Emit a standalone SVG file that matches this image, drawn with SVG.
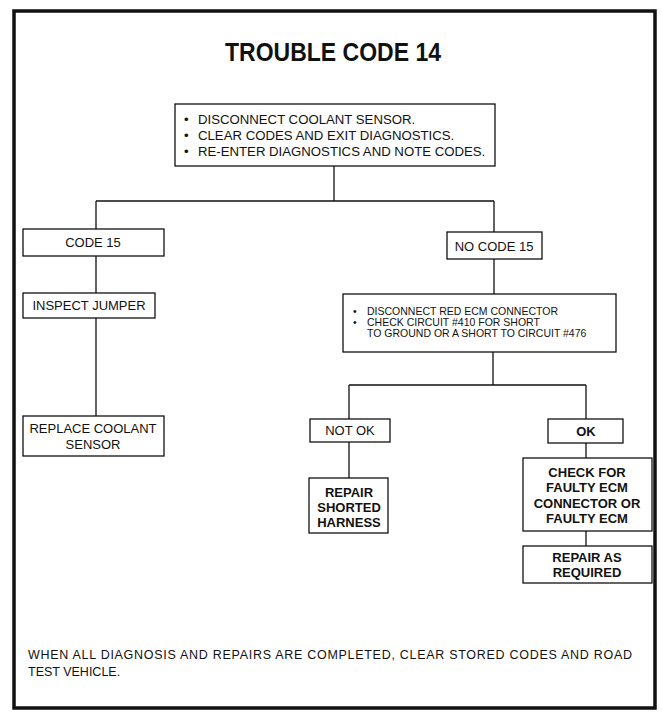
<svg xmlns="http://www.w3.org/2000/svg" width="662" height="713" viewBox="0 0 662 713">
<style>
.box{fill:#fff;stroke:#111;stroke-width:1.3}
.c{fill:none;stroke:#111;stroke-width:1.3}
text{font-family:"Liberation Sans",Arial,sans-serif;fill:#111}
.t{font-size:13px;text-anchor:middle}
.b{font-size:13px;font-weight:bold;text-anchor:middle}
.s{font-size:12.5px}
.m{font-size:13.2px}
.xs{font-size:10.5px}
</style>
<rect width="662" height="713" fill="#fff"/>
<rect id="frame" x="14" y="11" width="641" height="697" fill="none" stroke="#111" stroke-width="3.5"/>
<text id="title" x="333" y="61" font-size="25" font-weight="bold" text-anchor="middle" textLength="216" lengthAdjust="spacingAndGlyphs">TROUBLE CODE 14</text>
<g id="connectors">
<path class="c" d="M334 166V201M96 201H494M96 201V229M96 256V293M96 318V416M494 201V232M494 259V294M493 352V385M349 385H586M349 385V419M586 385V419M349 442V478M586 443V458M586 531V546"/>
</g>
<g id="start">
<rect class="box" x="175" y="104" width="320" height="62"/>
<text class="m" x="184" y="124">•</text><text class="m" x="198" y="124">DISCONNECT COOLANT SENSOR.</text>
<text class="m" x="184" y="140">•</text><text class="m" x="198" y="140">CLEAR CODES AND EXIT DIAGNOSTICS.</text>
<text class="m" x="184" y="156">•</text><text class="m" x="198" y="156">RE-ENTER DIAGNOSTICS AND NOTE CODES.</text>
</g>
<g id="code15">
<rect class="box" x="23" y="229" width="141" height="27"/>
<text class="t" x="93" y="247">CODE 15</text>
</g>
<g id="inspect">
<rect class="box" x="23" y="293" width="132" height="25"/>
<text class="t" x="89" y="310">INSPECT JUMPER</text>
</g>
<g id="replace">
<rect class="box" x="23" y="416" width="141" height="40"/>
<text class="t" x="93" y="433">REPLACE COOLANT</text>
<text class="t" x="93" y="449">SENSOR</text>
</g>
<g id="nocode15">
<rect class="box" x="447" y="232" width="95" height="27"/>
<text class="t" x="494" y="250.5" font-size="14">NO CODE 15</text>
</g>
<g id="ecm">
<rect class="box" x="343" y="294" width="273" height="58"/>
<text class="xs" x="353" y="315">•</text><text class="xs" x="367" y="315">DISCONNECT RED ECM CONNECTOR</text>
<text class="xs" x="353" y="325.5">•</text><text class="xs" x="367" y="325.5">CHECK CIRCUIT #410 FOR SHORT</text>
<text class="xs" x="367" y="336.5">TO GROUND OR A SHORT TO CIRCUIT #476</text>
</g>
<g id="notok">
<rect class="box" x="310" y="419" width="80" height="23"/>
<text class="t" x="350" y="435">NOT OK</text>
</g>
<g id="ok">
<rect class="box" x="548" y="419" width="75" height="24"/>
<text class="b" x="586" y="436">OK</text>
</g>
<g id="repairshorted">
<rect class="box" x="309" y="478" width="79" height="55"/>
<text class="b" x="349" y="497">REPAIR</text>
<text class="b" x="349" y="512">SHORTED</text>
<text class="b" x="349" y="527">HARNESS</text>
</g>
<g id="check">
<rect class="box" x="523" y="458" width="129" height="73"/>
<text class="b" x="587" y="477">CHECK FOR</text>
<text class="b" x="587" y="492">FAULTY ECM</text>
<text class="b" x="587" y="508">CONNECTOR OR</text>
<text class="b" x="587" y="523">FAULTY ECM</text>
</g>
<g id="repairas">
<rect class="box" x="523" y="546" width="129" height="37"/>
<text class="b" x="587" y="562">REPAIR AS</text>
<text class="b" x="587" y="577">REQUIRED</text>
</g>
<g id="note">
<text class="s" x="28" y="659" textLength="604" lengthAdjust="spacing">WHEN ALL DIAGNOSIS AND REPAIRS ARE COMPLETED, CLEAR STORED CODES AND ROAD</text>
<text class="s" x="28" y="676">TEST VEHICLE.</text>
</g>
</svg>
